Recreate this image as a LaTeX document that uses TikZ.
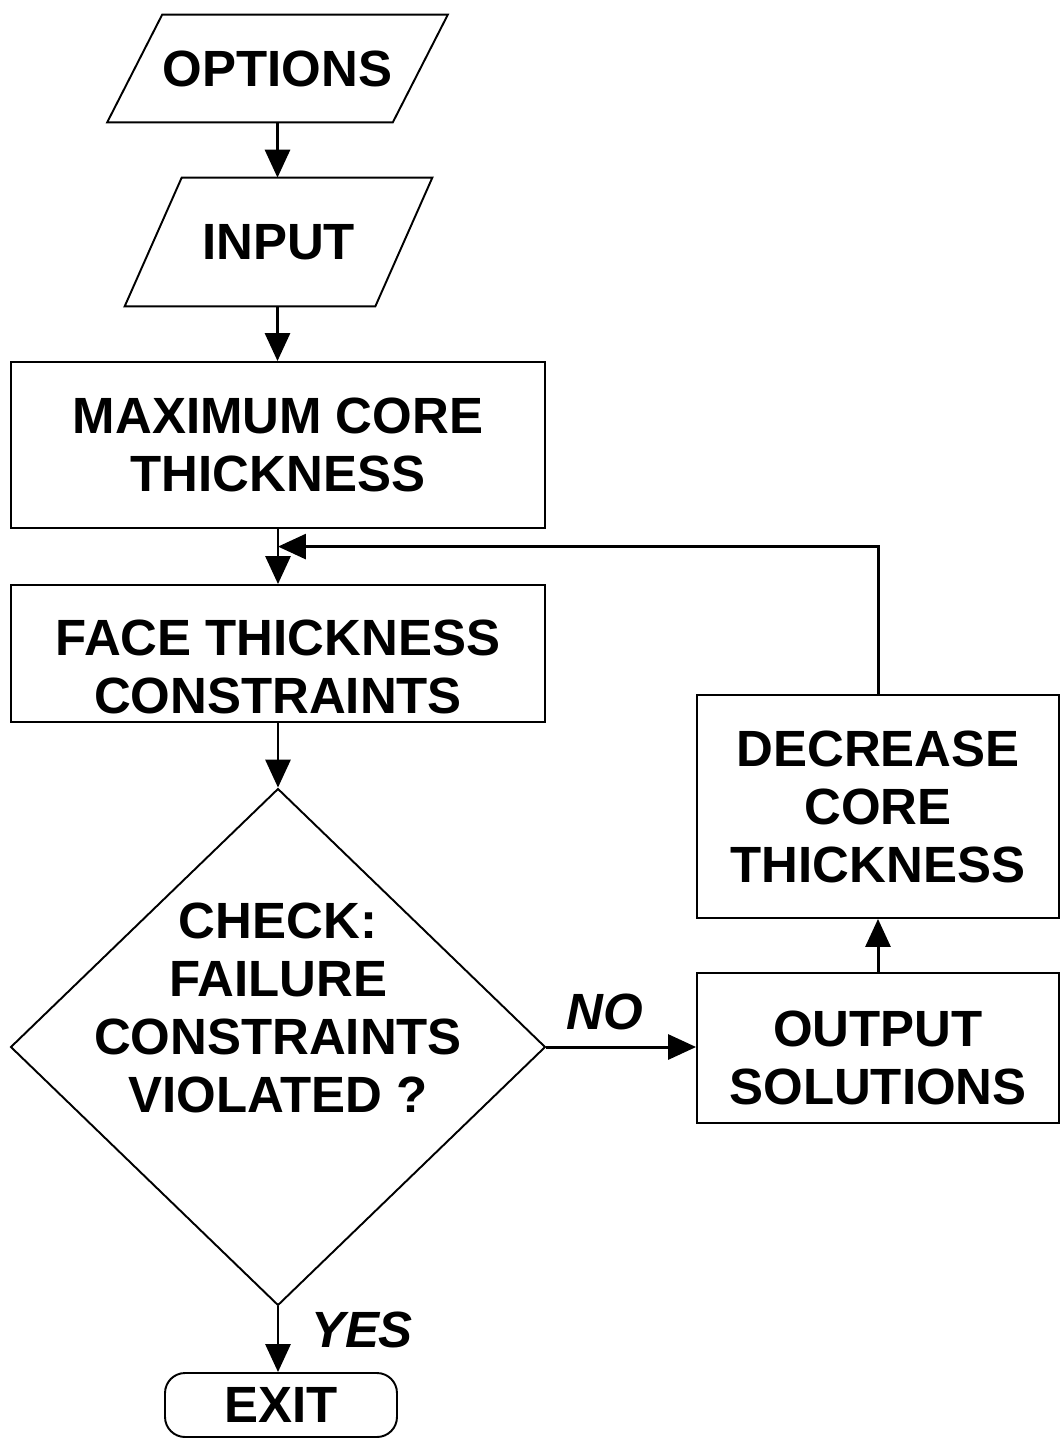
\documentclass[tikz,border=0pt]{standalone}
\usepackage{fontspec}
\setmainfont{Liberation Sans}
\usetikzlibrary{shapes.geometric,arrows.meta,calc}

\begin{document}
\begin{tikzpicture}[x=0.02cm,y=-0.02cm,
    font=\fontsize{29}{33}\selectfont\bfseries,
    edge/.style={line width=1.1pt},
    box/.style={draw, edge, align=center, inner sep=0pt},
    io/.style={inner sep=0pt, minimum height=#1},
    decision/.style={draw, edge, diamond, inner sep=0pt,
        minimum width=10.7cm, minimum height=10.34cm},
    term/.style={draw, edge, rounded corners=0.4cm,
        minimum width=4.64cm, minimum height=1.28cm},
    lbl/.style={font=\fontsize{29}{33}\selectfont\bfseries\itshape},
    arrow/.style={line width=1.7pt, -{Triangle[length=0.56cm,width=0.5cm]}}]

    \useasboundingbox (0,0) rectangle (1061,1441);

    % Entrees
    \node[io=2.14cm, minimum width=5.7cm] (opt) at (277.5,68.5) {OPTIONS};
    \node[io=2.56cm, minimum width=5cm] (inp) at (278.5,242) {INPUT};
    \draw[edge] ($(opt.south west)+(-27.5,0)$) -- ($(opt.north west)+(27.5,0)$)
        -- ($(opt.north east)+(27.5,0)$) -- ($(opt.south east)+(-27.5,0)$) -- cycle;
    \draw[edge] ($(inp.south west)+(-28.5,0)$) -- ($(inp.north west)+(28.5,0)$)
        -- ($(inp.north east)+(28.5,0)$) -- ($(inp.south east)+(-28.5,0)$) -- cycle;

    % Boites
    \node[box, minimum width=10.7cm, minimum height=3.32cm] (maxc) at (278,445)
        {MAXIMUM CORE\\THICKNESS};
    \node[box, minimum width=10.7cm, minimum height=2.74cm] (face) at (278,653.5) {};
    \node[align=center] (facetxt) at (278,667) {FACE THICKNESS\\CONSTRAINTS};

    % Test
    \node[decision] (check) at (278,1047) {};
    \node[align=center] (checktxt) at (278,1008)
        {CHECK:\\FAILURE\\CONSTRAINTS\\VIOLATED ?};

    % Sortie
    \node[term] (exit) at (281,1405) {EXIT};

    % Boucle
    \node[box, minimum width=7.24cm, minimum height=3cm] (outp) at (878,1048) {};
    \node[align=center] (outptxt) at (878,1058) {OUTPUT\\SOLUTIONS};
    \node[box, minimum width=7.24cm, minimum height=4.46cm] (decr) at (878,806.5)
        {DECREASE\\CORE\\THICKNESS};
    \coordinate (loop) at ($(maxc.south)!0.32!(face.north)$);

    % Labels
    \node[lbl] (no) at (605,1012) {NO};
    \node[lbl] (yes) at (362,1330) {YES};

    % Fleches
    \draw[arrow] (opt.south) -- (opt.south |- inp.north);
    \draw[arrow] (opt.south |- inp.south) -- (opt.south |- maxc.north);
    \draw[arrow] (maxc.south) -- (face.north);
    \draw[arrow] (face.south) -- (check.north);
    \draw[arrow] (check.south) -- (check.south |- exit.north);
    \draw[arrow] (check.east) -- (check.east -| outp.west);
    \draw[arrow] (outp.north) -- (decr.south);
    \draw[arrow] (decr.north) |- (loop);

\end{tikzpicture}
\end{document}
